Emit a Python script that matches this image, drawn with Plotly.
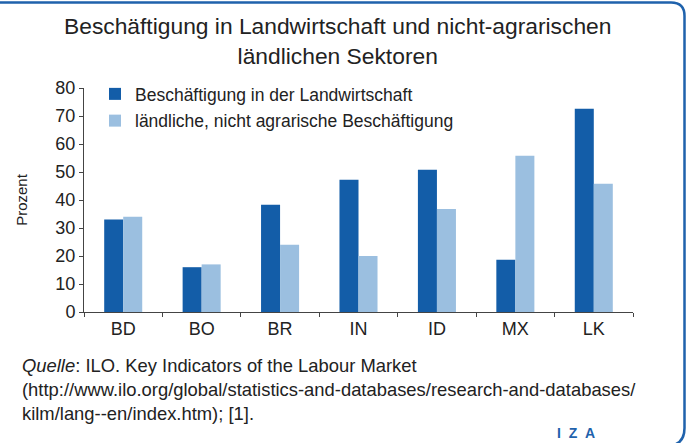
import plotly.graph_objects as go

categories = ["BD", "BO", "BR", "IN", "ID", "MX", "LK"]
agri = [33, 16, 38.3, 47.2, 50.8, 18.7, 72.6]
nonagri = [34, 17, 24, 20, 36.8, 55.8, 45.8]
series_names = ["Beschäftigung in der Landwirtschaft",
                "ländliche, nicht agrarische Beschäftigung"]
y_ticks = [0, 10, 20, 30, 40, 50, 60, 70, 80]

DARK = "#135da8"
LIGHT = "#9bbfe0"
BORDER = "#1f62ac"
FONT = "Liberation Sans, Arial, sans-serif"

W, H = 688, 443
L, R, T, B = 84, 55, 88, 131
PW = W - L - R
PH = H - T - B


def px(x):
    return (x - L) / PW


def py(y):
    return (H - B - y) / PH


fig = go.Figure()
fig.add_trace(go.Bar(x=categories, y=agri, name=series_names[0],
                     marker=dict(color=DARK, line=dict(width=0)),
                     legendgroup="a"))
fig.add_trace(go.Bar(x=categories, y=nonagri, name=series_names[1],
                     marker=dict(color=LIGHT, line=dict(width=0)),
                     legendgroup="b"))

fig.update_layout(
    width=W, height=H,
    margin=dict(l=L, r=R, t=T, b=B, autoexpand=False),
    paper_bgcolor="white", plot_bgcolor="white",
    barmode="group", bargap=0.515, bargroupgap=0,
    font=dict(family=FONT, color="#222222"),
    showlegend=True,
    legend=dict(x=px(95), y=py(76), xanchor="left", yanchor="top",
                font=dict(size=17.5, color="#222222"),
                bgcolor="rgba(0,0,0,0)", tracegroupgap=1,
                traceorder="grouped"),
    xaxis=dict(showline=True, linecolor="#444444", linewidth=1,
               ticks="outside", ticklen=4, tickcolor="#444444",
               tickson="boundaries", showgrid=False,
               tickfont=dict(size=18, color="#222222")),
    yaxis=dict(range=[0, 80], tickvals=y_ticks, showline=True,
               linecolor="#444444", linewidth=1, ticks="outside",
               ticklen=4, tickcolor="#444444", showgrid=False,
               zeroline=False,
               tickfont=dict(size=18, color="#222222"),
               title=dict(text="Prozent", font=dict(size=15, color="#222222"),
                          standoff=24)),
)

fig.add_annotation(
    text="Beschäftigung in Landwirtschaft und nicht-agrarischen<br>ländlichen Sektoren",
    xref="paper", yref="paper", x=px(337), y=py(11), xanchor="center",
    yanchor="top", showarrow=False, align="center",
    font=dict(size=22.8, color="#222222", family=FONT))

fig.add_annotation(
    text="<i>Quelle</i>: ILO. Key Indicators of the Labour Market<br>"
         "(http://www.ilo.org/global/statistics-and-databases/research-and-databases/<br>"
         "kilm/lang--en/index.htm); [1].",
    xref="paper", yref="paper", x=px(20), y=py(353), xanchor="left",
    yanchor="top", showarrow=False, align="left",
    font=dict(size=18.4, color="#222222", family=FONT))

fig.add_annotation(
    text="<b>I&nbsp;&nbsp;Z&nbsp;&nbsp;A</b>", xref="paper", yref="paper",
    x=px(576), y=py(433),
    xanchor="center", yanchor="middle", showarrow=False,
    font=dict(size=14, color=BORDER, family=FONT))

path = (f"M {px(-3)},{py(2.5)} L {px(671)},{py(2.5)} "
        f"Q {px(684.5)},{py(2.5)} {px(684.5)},{py(16)} "
        f"L {px(684.5)},{py(428)} Q {px(684.5)},{py(446)} {px(666)},{py(446)}")
fig.add_shape(type="path", path=path, xref="paper", yref="paper",
              line=dict(color=BORDER, width=2.5), layer="above")

fig.write_html("out.html", config={"displayModeBar": False},
               post_script="document.body.style.margin='0';"
                           "document.body.style.overflow='hidden';")
